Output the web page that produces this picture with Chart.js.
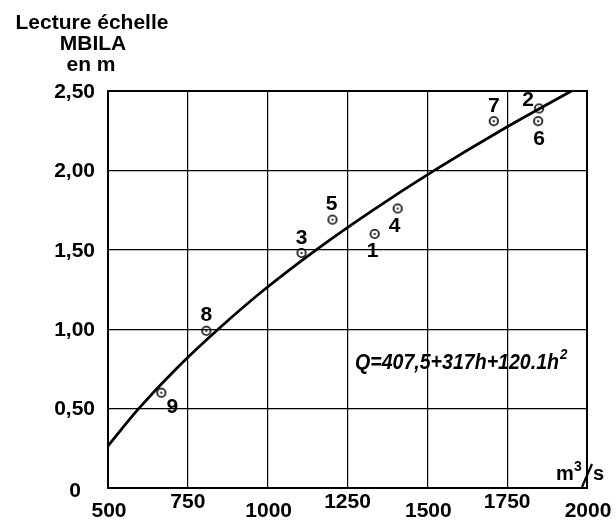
<!DOCTYPE html>
<html>
<head>
<meta charset="utf-8">
<script src="https://cdn.jsdelivr.net/npm/chart.js@4/dist/chart.umd.min.js"></script>
<style>
  html, body { margin: 0; padding: 0; background: #fff; }
  #wrap { width: 616px; height: 522px; }
</style>
</head>
<body>
<div id="wrap"><canvas id="c" width="616" height="522"></canvas></div>
<script>
// Gauge readings at MBILA: discharge (m³/s) against staff reading (m)
const pointNames = ['1', '2', '3', '4', '5', '6', '7', '8', '9'];
const pointQ = [1335, 1850, 1106, 1407, 1203, 1847, 1708, 808, 667];
const pointH = [1.60, 2.39, 1.48, 1.76, 1.69, 2.31, 2.31, 0.99, 0.60];

// Rating curve Q = 407,5 + 317h + 120.1h²
const curveH = [0.25, 0.5, 0.75, 1.0, 1.25, 1.5, 1.75, 2.0, 2.25, 2.5];
const curveQ = [494, 596, 713, 845, 990, 1152, 1330, 1522, 1729, 1951];

const xTicks = [500, 750, 1000, 1250, 1500, 1750, 2000];
const xTickText = ['500', '750', '1000', '1250', '1500', '1750', '2000'];
const yTicks = [0, 0.5, 1.0, 1.5, 2.0, 2.5];
const yTickText = ['0', '0,50', '1,00', '1,50', '2,00', '2,50'];

const titleLines = ['Lecture échelle', 'MBILA', 'en m'];
const formulaText = 'Q=407,5+317h+120.1h';

const FONT = '"Liberation Sans", Arial, sans-serif';

// label offsets (px) of each point number, in point order
const nameOffsets = [[-2, 17], [-11, -8], [0, -15], [-3, 18], [-1, -15], [1, 18], [0, -15], [0, -16], [11, 14]];

// circled-dot marker
function makeMarker() {
  const m = document.createElement('canvas');
  m.width = 14; m.height = 14;
  const g = m.getContext('2d');
  g.strokeStyle = '#000';
  g.lineWidth = 1.6;
  g.beginPath(); g.arc(7, 7, 4.2, 0, Math.PI * 2); g.stroke();
  g.fillStyle = '#000';
  g.beginPath(); g.arc(7, 7, 1.1, 0, Math.PI * 2); g.fill();
  return m;
}

const decorations = {
  id: 'decorations',
  afterDraw(chart) {
    const ctx = chart.ctx;
    const xs = chart.scales.x, ys = chart.scales.y;
    const a = chart.chartArea;
    ctx.save();
    ctx.fillStyle = '#000';
    ctx.strokeStyle = '#000';

    // frame
    ctx.lineWidth = 2;
    ctx.strokeRect(a.left, a.top, a.right - a.left, a.bottom - a.top);

    // y tick labels
    ctx.font = 'bold 21px ' + FONT;
    ctx.textBaseline = 'middle';
    yTicks.forEach((v, i) => {
      const py = ys.getPixelForValue(v);
      if (v === 0) {
        ctx.textAlign = 'center';
        ctx.fillText(yTickText[i], 75, py + 3);
      } else {
        ctx.textAlign = 'right';
        ctx.fillText(yTickText[i], 95, py + 1);
      }
    });

    // x tick labels, staggered
    ctx.textAlign = 'center';
    xTicks.forEach((v, i) => {
      const px = xs.getPixelForValue(v);
      const low = i % 2 === 0;
      ctx.fillText(xTickText[i], px + (low ? 1 : 0), low ? 511 : 502);
    });

    // axis title
    ctx.font = 'bold 21px ' + FONT;
    ctx.textAlign = 'center';
    ctx.fillText(titleLines[0], 92, 23);
    ctx.fillText(titleLines[1], 93, 44);
    ctx.fillText(titleLines[2], 91, 65);

    // unit m³/s
    ctx.textAlign = 'left';
    ctx.textBaseline = 'alphabetic';
    ctx.font = 'bold 20px ' + FONT;
    ctx.fillText('m', 556, 480);
    ctx.font = 'bold 14px ' + FONT;
    ctx.fillText('3', 574, 471);
    ctx.lineWidth = 2.2;
    ctx.beginPath(); ctx.moveTo(582, 487); ctx.lineTo(592, 464); ctx.stroke();
    ctx.font = 'bold 20px ' + FONT;
    ctx.fillText('s', 593, 480);

    // formula
    ctx.save();
    ctx.translate(355, 369);
    ctx.font = 'italic bold 22px ' + FONT;
    const w = ctx.measureText(formulaText).width;
    const sx = 204 / w;
    ctx.scale(sx, 1);
    ctx.fillText(formulaText, 0, 0);
    ctx.font = 'italic bold 15px ' + FONT;
    ctx.fillText('2', w + 1, -10);
    ctx.restore();

    // point numbers
    ctx.font = 'bold 21px ' + FONT;
    ctx.textAlign = 'center';
    ctx.textBaseline = 'middle';
    pointNames.forEach((n, i) => {
      const px = xs.getPixelForValue(pointQ[i]);
      const py = ys.getPixelForValue(pointH[i]);
      ctx.fillText(n, px + nameOffsets[i][0], py + nameOffsets[i][1]);
    });

    ctx.restore();
  }
};

const marker = makeMarker();

new Chart(document.getElementById('c'), {
  type: 'scatter',
  data: {
    datasets: [
      {
        label: 'courbe',
        data: curveQ.map((q, i) => ({ x: q, y: curveH[i] })),
        showLine: true,
        borderColor: '#000',
        borderWidth: 2.8,
        pointRadius: 0,
        tension: 0.35,
        fill: false
      },
      {
        label: 'mesures',
        data: pointQ.map((q, i) => ({ x: q, y: pointH[i] })),
        pointStyle: marker,
        pointRadius: 6,
        showLine: false
      }
    ]
  },
  options: {
    responsive: false,
    animation: false,
    devicePixelRatio: 1,
    layout: { padding: { top: 91, right: 29, left: 0, bottom: 0 } },
    plugins: { legend: { display: false }, tooltip: { enabled: false } },
    scales: {
      x: {
        type: 'linear',
        min: 500, max: 2000,
        ticks: { stepSize: 250, display: false },
        grid: { color: '#000', lineWidth: 1.2, drawTicks: false },
        border: { display: false },
        afterFit(s) { s.height = 34; }
      },
      y: {
        type: 'linear',
        min: 0, max: 2.5,
        ticks: { stepSize: 0.5, display: false },
        grid: { color: '#000', lineWidth: 1.2, drawTicks: false },
        border: { display: false },
        afterFit(s) { s.width = 108; }
      }
    }
  },
  plugins: [decorations]
});
</script>
</body>
</html>
